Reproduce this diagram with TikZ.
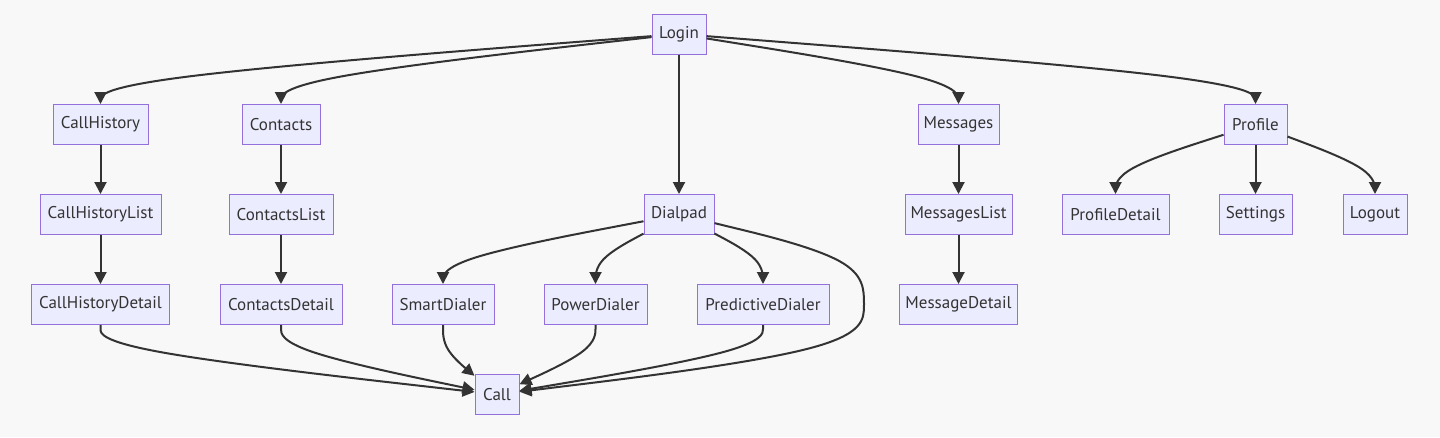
\documentclass[tikz,border=0pt]{standalone}
\usepackage{fontspec}
\setmainfont{PT Sans}
\usetikzlibrary{arrows.meta,calc}
\definecolor{bg}{HTML}{F8F8F8}
\definecolor{nodefill}{HTML}{ECECFF}
\definecolor{nodeborder}{HTML}{9370DB}
\definecolor{ink}{HTML}{333333}
\tikzset{
  box/.style={draw=nodeborder, fill=nodefill, line width=1pt, minimum height=40pt,
    inner xsep=0pt, inner ysep=0pt, text=ink, font=\fontsize{17pt}{20pt}\selectfont},
  edge/.style={draw=ink, line width=2pt, -{Triangle[length=12pt,width=12pt]}},
}
% d3 curveBasis through: border of #1, point #2, border of #3
\newcommand\bedge[3]{%
  \path (#1) -- coordinate[pos=0] (eA) #2;
  \path #2 -- coordinate[pos=1] (eC) (#3);
  \draw[edge] (#1) -- ($(eA)!1/6!#2$)
    .. controls ($(eA)!1/3!#2$) and ($(eA)!2/3!#2$) ..
    ($0.166667*(eA)+0.666667*#2+0.166667*(eC)$)
    .. controls ($#2!1/3!(eC)$) and ($#2!2/3!(eC)$) ..
    ($#2!5/6!(eC)$) -- (#3);}
\begin{document}
\begin{tikzpicture}[x=1pt,y=-1pt]
\useasboundingbox[fill=bg] (0,0) rectangle (1440,437);
% row 1
\node[box, minimum width=54pt] (Login) at (679,34) {Login};
% row 2
\node[box, minimum width=95pt] (CallHistory) at (100.5,124.5) {CallHistory};
\node[box, minimum width=78pt] (Contacts) at (281,124.5) {Contacts};
\node[box, minimum width=81pt] (Messages) at (958.5,124.5) {Messages};
\node[box, minimum width=63pt] (Profile) at (1255.5,124.5) {Profile};
% row 3
\node[box, minimum width=121pt] (CallHistoryList) at (100.5,214.5) {CallHistoryList};
\node[box, minimum width=104pt] (ContactsList) at (281,214.5) {ContactsList};
\node[box, minimum width=70pt] (Dialpad) at (679,214.5) {Dialpad};
\node[box, minimum width=107pt] (MessagesList) at (958.5,214.5) {MessagesList};
\node[box, minimum width=107pt] (ProfileDetail) at (1115.5,214.5) {ProfileDetail};
\node[box, minimum width=73pt] (Settings) at (1255.5,214.5) {Settings};
\node[box, minimum width=64pt] (Logout) at (1375,214.5) {Logout};
% row 4
\node[box, minimum width=138pt] (CallHistoryDetail) at (100.5,304.5) {CallHistoryDetail};
\node[box, minimum width=122pt] (ContactsDetail) at (281,304.5) {ContactsDetail};
\node[box, minimum width=102pt] (SmartDialer) at (443,304.5) {SmartDialer};
\node[box, minimum width=103pt] (PowerDialer) at (595.5,304.5) {PowerDialer};
\node[box, minimum width=132pt] (PredictiveDialer) at (763,304.5) {PredictiveDialer};
\node[box, minimum width=118pt] (MessageDetail) at (958.5,304.5) {MessageDetail};
% row 5
\node[box, minimum width=44pt] (Call) at (497,394.5) {Call};

% edges from Login
\bedge{Login}{(100.5,79)}{CallHistory}
\bedge{Login}{(281,79)}{Contacts}
\draw[edge] (Login) -- (Dialpad);
\bedge{Login}{(958.5,79)}{Messages}
\bedge{Login}{(1255.5,79)}{Profile}
% vertical chains
\draw[edge] (CallHistory) -- (CallHistoryList);
\draw[edge] (CallHistoryList) -- (CallHistoryDetail);
\draw[edge] (Contacts) -- (ContactsList);
\draw[edge] (ContactsList) -- (ContactsDetail);
\draw[edge] (Messages) -- (MessagesList);
\draw[edge] (MessagesList) -- (MessageDetail);
\draw[edge] (Profile) -- (Settings);
% Profile
\bedge{Profile}{(1115.5,169.5)}{ProfileDetail}
\bedge{Profile}{(1375,169.5)}{Logout}
% Dialpad
\bedge{Dialpad}{(443,259.5)}{SmartDialer}
\bedge{Dialpad}{(595.5,259.5)}{PowerDialer}
\bedge{Dialpad}{(763,259.5)}{PredictiveDialer}
% to Call
\bedge{CallHistoryDetail}{(100.5,349.5)}{Call}
\bedge{ContactsDetail}{(281,349.5)}{Call}
\bedge{SmartDialer}{(443,349.5)}{Call}
\bedge{PowerDialer}{(595.5,349.5)}{Call}
\bedge{PredictiveDialer}{(763,349.5)}{Call}
% Dialpad -> Call (long edge)
\path (Dialpad) -- coordinate[pos=0] (dA) (864,259.5);
\path (864,349.5) -- coordinate[pos=1] (dC) (Call);
\draw[edge] (Dialpad) -- ($(dA)!1/6!(864,259.5)$)
  .. controls ($(dA)!1/3!(864,259.5)$) and ($(dA)!2/3!(864,259.5)$) ..
  ($0.166667*(dA)+0.666667*(864,259.5)+0.166667*(864,304.5)$)
  .. controls (864,274.5) and (864,289.5) .. (864,304.5)
  .. controls (864,319.5) and (864,334.5) ..
  ($0.166667*(864,304.5)+0.666667*(864,349.5)+0.166667*(dC)$)
  .. controls ($(864,349.5)!1/3!(dC)$) and ($(864,349.5)!2/3!(dC)$) ..
  ($(864,349.5)!5/6!(dC)$) -- (Call);
\end{tikzpicture}
\end{document}
